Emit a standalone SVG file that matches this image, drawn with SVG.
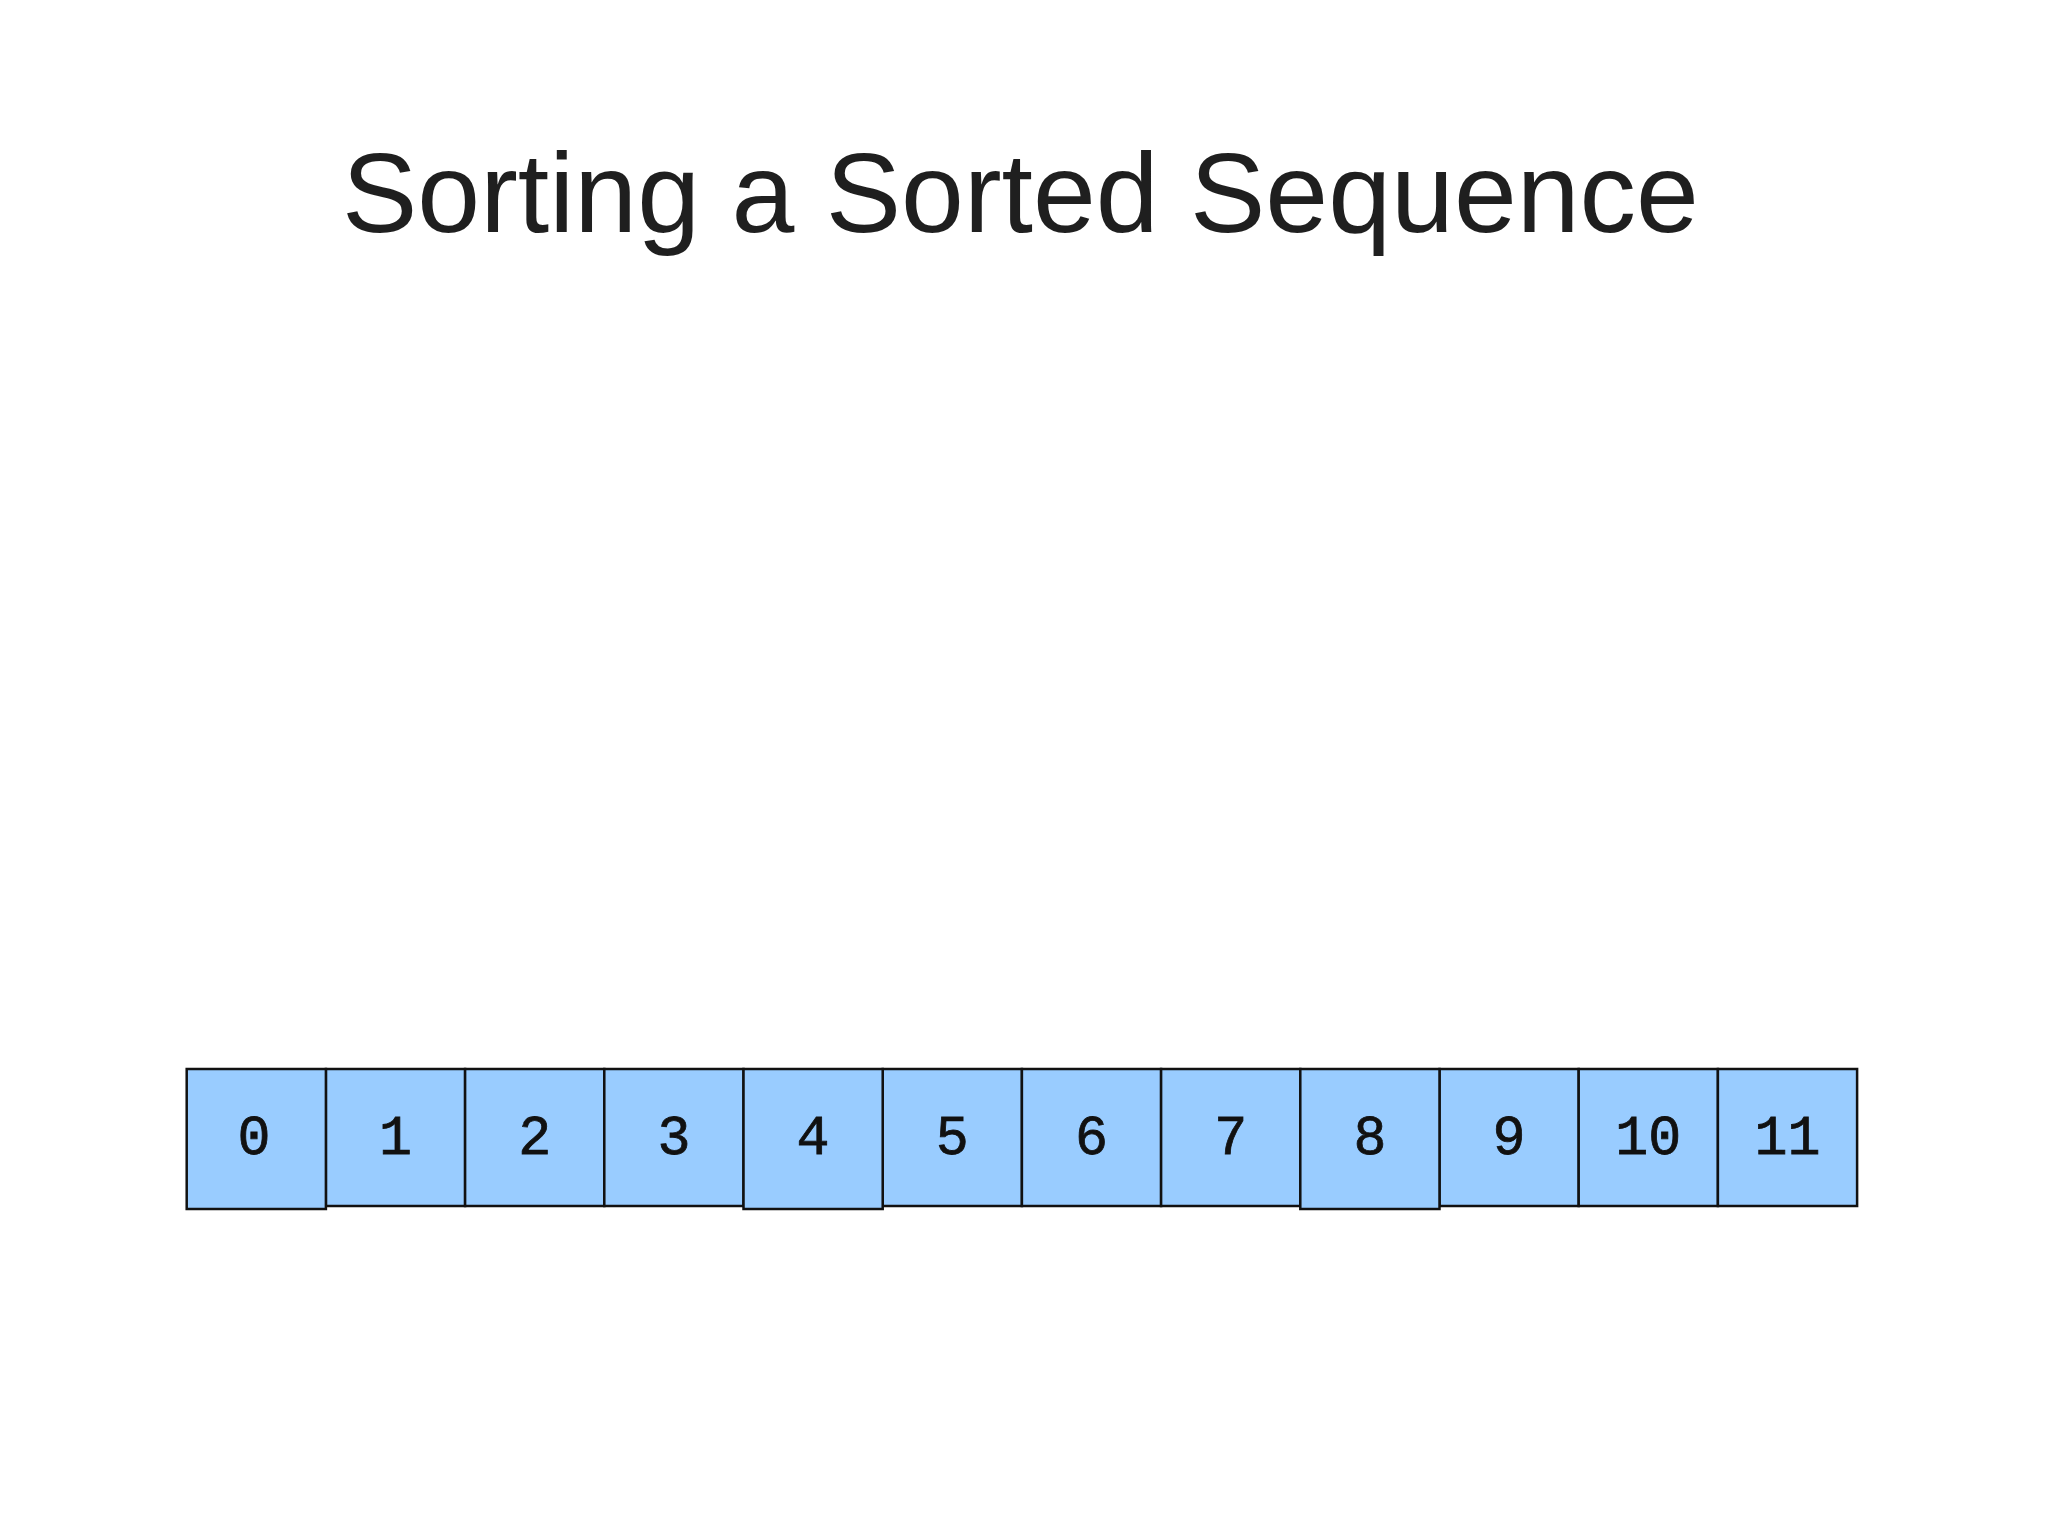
<svg xmlns="http://www.w3.org/2000/svg" width="2048" height="1536" viewBox="0 0 2048 1536">
<style>
.cell{fill:#99ccff;stroke:#111;stroke-width:2.5}
.num{font-family:"Liberation Mono",monospace;font-size:55px;fill:#111;stroke:#111;stroke-width:0.8;text-anchor:middle}
.title{font-family:"Liberation Sans",Arial,sans-serif;font-size:113px;fill:#1f1f1f}
</style>
<rect width="2048" height="1536" fill="#fff"/>
<text class="title" x="342" y="232">Sorting a Sorted Sequence</text>
<g id="cells">
<g id="c1"><rect class="cell" x="325.9" y="1069" width="139.2" height="137"/><text class="num" x="395.5" y="1154">1</text></g>
<g id="c2"><rect class="cell" x="465.1" y="1069" width="139.2" height="137"/><text class="num" x="534.7" y="1154">2</text></g>
<g id="c3"><rect class="cell" x="604.3" y="1069" width="139.2" height="137"/><text class="num" x="673.9" y="1154">3</text></g>
<g id="c5"><rect class="cell" x="882.7" y="1069" width="139.2" height="137"/><text class="num" x="952.3" y="1154">5</text></g>
<g id="c6"><rect class="cell" x="1021.9" y="1069" width="139.2" height="137"/><text class="num" x="1091.5" y="1154">6</text></g>
<g id="c7"><rect class="cell" x="1161.1" y="1069" width="139.2" height="137"/><text class="num" x="1230.7" y="1154">7</text></g>
<g id="c9"><rect class="cell" x="1439.5" y="1069" width="139.2" height="137"/><text class="num" x="1509.1" y="1154">9</text></g>
<g id="c10"><rect class="cell" x="1578.7" y="1069" width="139.2" height="137"/><text class="num" x="1648.3" y="1154">10</text></g>
<g id="c11"><rect class="cell" x="1717.9" y="1069" width="139.2" height="137"/><text class="num" x="1787.5" y="1154">11</text></g>
<g id="c0"><rect class="cell" x="186.7" y="1069" width="139.2" height="140"/><text class="num" x="254" y="1154">0</text></g>
<g id="c4"><rect class="cell" x="743.5" y="1069" width="139.2" height="140"/><text class="num" x="813.1" y="1154">4</text></g>
<g id="c8"><rect class="cell" x="1300.3" y="1069" width="139.2" height="140"/><text class="num" x="1369.9" y="1154">8</text></g>
</g>
</svg>
